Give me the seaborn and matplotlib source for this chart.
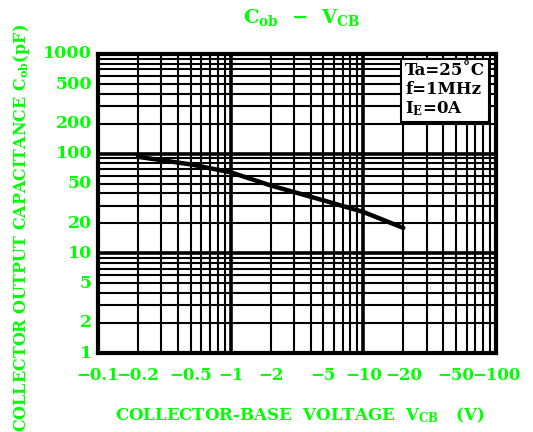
import numpy as np
import pandas as pd
import matplotlib
matplotlib.use("Agg")
import matplotlib.pyplot as plt
from matplotlib.ticker import FixedLocator, LogLocator, NullFormatter
import seaborn as sns

# Daten: Sperrspannung |V_CB| in V, Ausgangskapazitaet C_ob in pF
v_cb = [0.2, 0.5, 1, 2, 5, 10, 20]
c_ob = [93, 78, 65, 48, 34, 26, 18]

x_ticks = [0.1, 0.2, 0.5, 1, 2, 5, 10, 20, 50, 100]
x_labels = ["\u22120.1", "\u22120.2", "\u22120.5", "\u22121", "\u22122",
            "\u22125", "\u221210", "\u221220", "\u221250", "\u2212100"]
y_ticks = [1, 2, 5, 10, 20, 50, 100, 200, 500, 1000]
y_labels = ["1", "2", "5", "10", "20", "50", "100", "200", "500", "1000"]

GRUEN = "#00ff00"

sns.set_style("white")
plt.rcParams["font.family"] = ["DejaVu Serif"]
plt.rcParams["mathtext.fontset"] = "dejavuserif"

df = pd.DataFrame({"V": v_cb, "C": c_ob})

fig = plt.figure(figsize=(5.33, 4.32), dpi=100)
ax = fig.add_axes([98 / 533, 1 - 353 / 432, 398 / 533, 299 / 432])

sns.lineplot(data=df, x="V", y="C", ax=ax, color="black", linewidth=3.2, zorder=5)
ax.set_xlabel("")
ax.set_ylabel("")

ax.set_xscale("log")
ax.set_yscale("log")
ax.set_xlim(0.1, 100)
ax.set_ylim(1, 1000)

# Gitter: dicke Linien an den Dekaden, duenne dazwischen
ax.xaxis.set_major_locator(FixedLocator([0.1, 1, 10, 100]))
ax.yaxis.set_major_locator(FixedLocator([1, 10, 100, 1000]))
ax.xaxis.set_minor_locator(LogLocator(base=10, subs=np.arange(2, 10)))
ax.yaxis.set_minor_locator(LogLocator(base=10, subs=np.arange(2, 10)))
ax.xaxis.set_minor_formatter(NullFormatter())
ax.yaxis.set_minor_formatter(NullFormatter())
ax.grid(which="major", color="black", linewidth=2.6)
ax.grid(which="minor", color="black", linewidth=1.5)
ax.tick_params(which="both", length=0)
ax.set_xticklabels([])
ax.set_yticklabels([])

for s in ax.spines.values():
    s.set_color("black")
    s.set_linewidth(3)

# Achsbeschriftungen als Text an den log-Positionen
for xv, lab in zip(x_ticks, x_labels):
    ax.text(xv, -0.075, lab, transform=ax.get_xaxis_transform(), ha="center", va="center",
            color=GRUEN, fontsize=12, fontweight="bold")
for yv, lab in zip(y_ticks, y_labels):
    ax.text(-0.015, yv, lab, transform=ax.get_yaxis_transform(), ha="right", va="center",
            color=GRUEN, fontsize=12.5, fontweight="bold")

fig.text(300 / 533, 1 - 415 / 432, r"COLLECTOR-BASE  VOLTAGE  $\mathbf{V_{CB}}$   (V)",
         color=GRUEN, fontsize=12, fontweight="bold", ha="center", va="center")
fig.text(22 / 533, 1 - 228 / 432, r"COLLECTOR OUTPUT CAPACITANCE $\mathbf{C_{ob}}$(pF)",
         color=GRUEN, fontsize=11.5, fontweight="bold", ha="center", va="center", rotation=90)
fig.text(302 / 533, 1 - 17 / 432, "$\\mathbf{C_{ob}}$  \u2212  $\\mathbf{V_{CB}}$",
         color=GRUEN, fontsize=14, fontweight="bold", ha="center", va="center")

ax.text(0.772, 0.972, "Ta=25\u02daC\nf=1MHz\n$\\mathbf{I_E}$=0A", transform=ax.transAxes,
        ha="left", va="top", fontsize=12, fontweight="bold", color="black",
        linespacing=1.1, zorder=6,
        bbox=dict(boxstyle="square,pad=0.25", facecolor="white", edgecolor="black", linewidth=1.5))

fig.savefig("out.png", dpi=100)
